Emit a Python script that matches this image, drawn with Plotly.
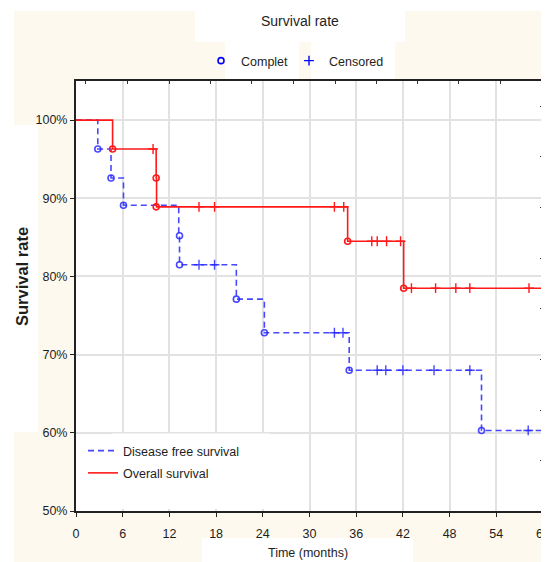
import plotly.graph_objects as go

# ---------------- data ----------------
x_ticks = [0, 6, 12, 18, 24, 30, 36, 42, 48, 54, 60]
y_ticks = [50, 60, 70, 80, 90, 100]
y_tick_labels = ["50%", "60%", "70%", "80%", "90%", "100%"]

# Disease free survival (step function)
dfs_time = [0, 2.8, 4.5, 6.1, 13.2, 13.3, 20.6, 24.2, 35.1, 52.1, 60]
dfs_surv = [100, 96.3, 92.6, 89.1, 85.2, 81.5, 77.1, 72.8, 68.0, 60.3, 60.3]
dfs_event_time = [2.8, 4.5, 6.1, 13.3, 13.3, 20.6, 24.2, 35.1, 52.1]
dfs_event_surv = [96.3, 92.6, 89.1, 85.2, 81.5, 77.1, 72.8, 68.0, 60.3]
dfs_cens_time = [15.8, 17.8, 33.2, 34.3, 38.7, 39.8, 42.0, 46.0, 50.6, 58.1]
dfs_cens_surv = [81.5, 81.5, 72.8, 72.8, 68.0, 68.0, 68.0, 68.0, 68.0, 60.3]

# Overall survival (step function)
os_time = [0, 4.7, 10.3, 10.35, 34.9, 42.1, 60]
os_surv = [100, 96.3, 92.6, 88.9, 84.5, 78.5, 78.5]
os_event_time = [4.7, 10.3, 10.3, 34.9, 42.1]
os_event_surv = [96.3, 92.6, 88.9, 84.5, 78.5]
os_cens_time = [9.9, 15.8, 17.8, 33.2, 34.4, 38.0, 38.7, 39.9, 41.7, 43.1, 46.2, 48.8, 50.6, 58.2]
os_cens_surv = [96.3, 88.9, 88.9, 88.9, 88.9, 84.5, 84.5, 84.5, 84.5, 78.5, 78.5, 78.5, 78.5, 78.5]

# decorative minor ticks on the top and right frame
top_ticks = [1.26, 6.57, 11.97, 17.24, 22.55, 27.95, 33.35, 38.6, 43.9, 49.2, 54.5]
right_ticks = [101.8, 95.3, 88.8, 82.3, 75.9, 69.4, 62.8, 56.4]

# ---------------- styling ----------------
FONT = "Liberation Sans, Arial, sans-serif"
FS = 12.5
BLUE = "rgba(40,40,255,0.85)"
RED = "rgb(255,25,25)"
TXT = "#1e1e1e"
CREAM = "#fdf9ef"

# the page body has an 8px margin, so the figure is drawn 8px in from the corner
OFF = 8
W, H = 549 - OFF, 562 - OFF
L, T = 76 - OFF, 81 - OFF
R = W - (543 - OFF)
B = H - (511 - OFF)
PW, PH = W - L - R, H - T - B


def px(xp):  # reference-image pixel -> paper fraction
    return (xp - 76) / PW


def py(yp):
    return (511 - yp) / PH


fig = go.Figure()

fig.add_trace(go.Scatter(
    x=dfs_time, y=dfs_surv, mode="lines", line_shape="hv",
    line=dict(color=BLUE, width=1.6, dash="6px,4px"),
    name="Disease free survival", legend="legend", legendgroup="a", hoverinfo="skip"))
fig.add_trace(go.Scatter(
    x=os_time, y=os_surv, mode="lines", line_shape="hv",
    line=dict(color=RED, width=1.6),
    name="Overall survival", legend="legend", legendgroup="b", hoverinfo="skip"))

fig.add_trace(go.Scatter(
    x=dfs_event_time, y=dfs_event_surv, mode="markers",
    marker=dict(symbol="circle-open", size=6, color=BLUE, line=dict(width=1.6)),
    showlegend=False))
fig.add_trace(go.Scatter(
    x=dfs_cens_time, y=dfs_cens_surv, mode="markers",
    marker=dict(symbol="cross-thin-open", size=7, color=BLUE, line=dict(width=1.4, color=BLUE)),
    showlegend=False))
fig.add_trace(go.Scatter(
    x=os_event_time, y=os_event_surv, mode="markers",
    marker=dict(symbol="circle-open", size=6, color=RED, line=dict(width=1.6)),
    showlegend=False))
fig.add_trace(go.Scatter(
    x=os_cens_time, y=os_cens_surv, mode="markers",
    marker=dict(symbol="cross-thin-open", size=7, color=RED, line=dict(width=1.4, color=RED)),
    showlegend=False))

# top legend (symbol key), one legend box per item
fig.add_trace(go.Scatter(
    x=[None], y=[None], mode="markers", name="Complet", legend="legend2",
    marker=dict(symbol="circle-open", size=6, color="blue", line=dict(width=1.6))))
fig.add_trace(go.Scatter(
    x=[None], y=[None], mode="markers", name="Censored", legend="legend3",
    marker=dict(symbol="cross-thin-open", size=7, color="blue", line=dict(width=1.4, color="blue"))))

# invisible trace for the frame axes
fig.add_trace(go.Scatter(x=[None], y=[None], xaxis="x2", yaxis="y2",
                         showlegend=False, hoverinfo="skip"))

shapes = []


def rect(x0, y0, x1, y1, color, layer="below"):
    shapes.append(dict(type="rect", xref="paper", yref="paper",
                       x0=px(x0), x1=px(x1), y0=py(y1), y1=py(y0),
                       fillcolor=color, line=dict(width=0), layer=layer))


rect(14, 11, 549, 562, CREAM)
rect(195, 11, 405, 42, "white")
rect(225, 42, 299, 81, "white")
rect(311, 42, 395, 81, "white")
rect(14, 125, 38, 432, "white")
rect(202, 538, 413, 562, "white")
rect(76, 81, 541, 511, "white")
# white legend box over the grid
rect(112, 433.5, 270, 509, "white", layer="above")

leg_common = dict(bgcolor="rgba(0,0,0,0)", font=dict(family=FONT, size=FS, color=TXT),
                  itemwidth=30, borderwidth=0)

fig.update_layout(
    width=W, height=H, autosize=False,
    margin=dict(l=L, r=R, t=T, b=B, pad=0, autoexpand=False),
    paper_bgcolor="white", plot_bgcolor="rgba(0,0,0,0)",
    font=dict(family=FONT, size=FS, color=TXT),
    shapes=shapes,
    showlegend=True,
    legend=dict(x=px(83), y=py(462), xanchor="left", yanchor="middle",
                tracegroupgap=3, **leg_common),
    legend2=dict(x=px(201), y=py(61), xanchor="left", yanchor="middle", **leg_common),
    legend3=dict(x=px(289), y=py(61), xanchor="left", yanchor="middle", **leg_common),
    xaxis=dict(range=[0, 60], tickvals=x_ticks, ticktext=[str(v) for v in x_ticks],
               showgrid=True, gridcolor="#e2e2e2", gridwidth=1.5,
               showline=True, linecolor="#222", linewidth=2,
               ticks="outside", ticklen=4, tickcolor="#222", tickwidth=1,
               ticklabelstandoff=6, ticklabeloverflow="allow", zeroline=False,
               tickfont=dict(family=FONT, size=FS, color=TXT)),
    yaxis=dict(range=[50, 105], tickvals=y_ticks, ticktext=y_tick_labels,
               showgrid=True, gridcolor="#e2e2e2", gridwidth=1.5,
               showline=True, linecolor="#222", linewidth=2,
               ticks="outside", ticklen=4, tickcolor="#222", tickwidth=1,
               ticklabeloverflow="allow", zeroline=False,
               tickfont=dict(family=FONT, size=FS, color=TXT)),
    xaxis2=dict(overlaying="x", side="top", anchor="y", range=[0, 60],
                tickvals=top_ticks, showticklabels=False, ticks="inside",
                ticklen=3, tickcolor="#333", showgrid=False, zeroline=False,
                showline=True, linecolor="#222", linewidth=1.5),
    yaxis2=dict(overlaying="y", side="right", anchor="x", range=[50, 105],
                tickvals=right_ticks, showticklabels=False, ticks="inside",
                ticklen=3, tickcolor="#333", showgrid=False, zeroline=False,
                showline=True, linecolor="#8a8a8a", linewidth=2.5),
    annotations=[
        dict(text="Survival rate", xref="paper", yref="paper", x=px(300), y=py(21),
             showarrow=False, xanchor="center", yanchor="middle",
             font=dict(family=FONT, size=14, color=TXT)),
        dict(text="<b>Survival rate</b>", xref="paper", yref="paper", x=px(22), y=py(277),
             showarrow=False, xanchor="center", yanchor="middle", textangle=-90,
             font=dict(family=FONT, size=16.5, color=TXT)),
        dict(text="Time (months)", xref="paper", yref="paper", x=px(308), y=py(553),
             showarrow=False, xanchor="center", yanchor="middle",
             font=dict(family=FONT, size=FS, color=TXT)),
    ],
)

fig.write_html("out.html")
